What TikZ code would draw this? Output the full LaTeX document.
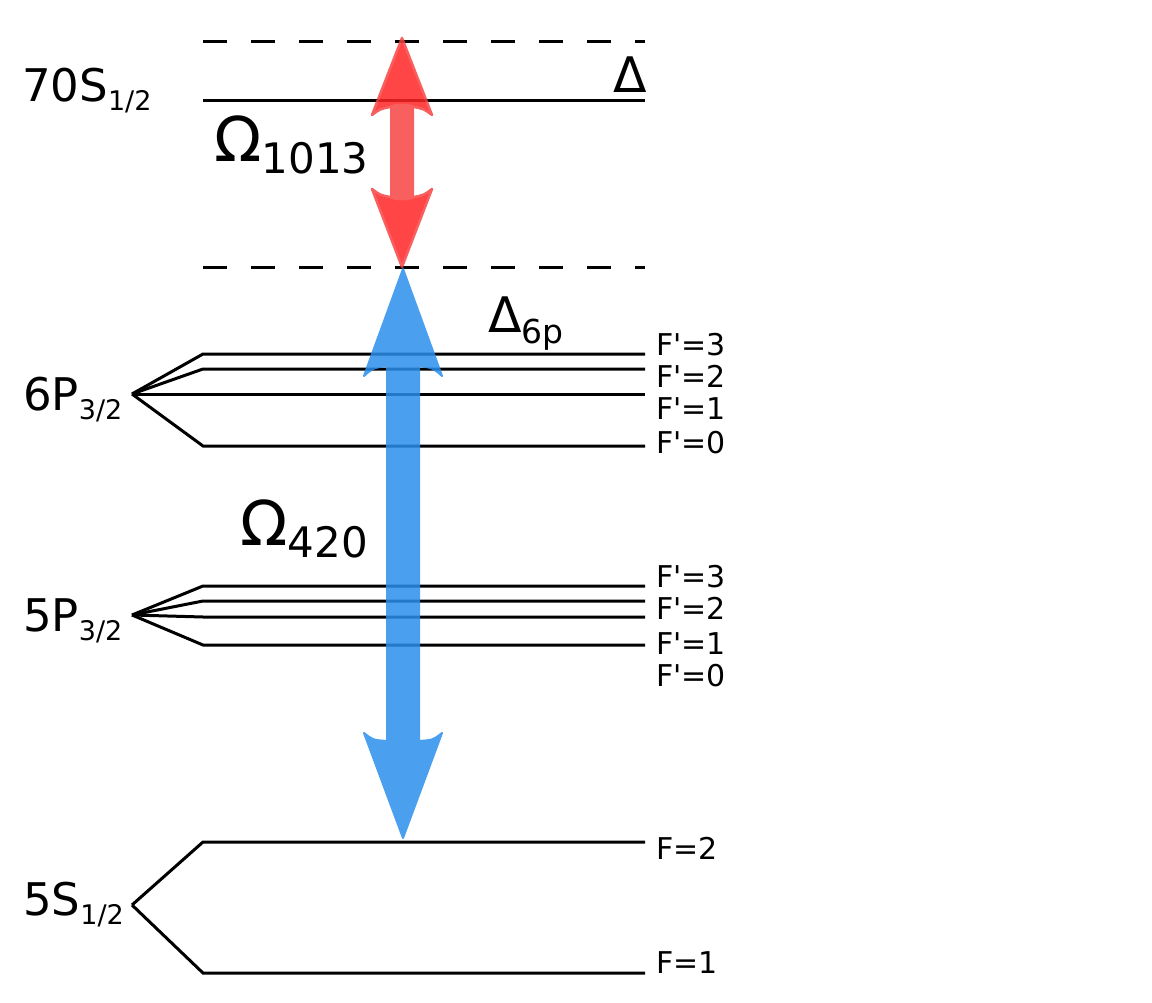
\documentclass[tikz,border=0pt]{standalone}
\usepackage{fontspec}
\setmainfont{DejaVu Sans}[Ligatures=TeXOff]
\definecolor{bluearr}{RGB}{42,142,235}
\definecolor{redhead}{RGB}{255,36,36}
\definecolor{redshaft}{RGB}{247,68,68}
\begin{document}
\begin{tikzpicture}[x=1pt,y=-1pt,
  lvl/.style={line width=3pt,line cap=butt},
  virt/.style={line width=3pt,dash pattern=on 24pt off 24pt},
  flab/.style={anchor=west,inner sep=0pt,font=\fontsize{30}{30}\selectfont},
  slab/.style={anchor=base west,inner sep=0pt},
  blueA/.style={fill=bluearr,draw=bluearr,line width=2pt,line join=round},
  redH/.style={fill=redhead,draw=redshaft,line width=2.5pt,line join=round},
  redS/.style={fill=redshaft}]
\useasboundingbox (0,0) rectangle (1152,1003);
% virtual levels
\coordinate (d1a) at (203,42);  \coordinate (d1b) at (645,42);
\coordinate (d2a) at (203,268); \coordinate (d2b) at (645,268);
\draw[virt] (d1a) -- (d1b);
\draw[virt] (d2a) -- (d2b);
% 70S
\coordinate (r1) at (203,101); \coordinate (r2) at (645,101);
\draw[lvl] (r1) -- (r2);
% 6P
\coordinate (p6) at (132,394);
\foreach \y in {354,369,394,446}{
  \draw[lvl] (p6) -- (203,\y) -- (645,\y);
}
% 5P
\coordinate (p5) at (132,615);
\foreach \y in {586,601,617,645}{
  \draw[lvl] (p5) -- (203,\y) -- (645,\y);
}
% 5S
\coordinate (s5) at (132,905);
\draw[lvl] (s5) -- (203,842) -- (645,842);
\draw[lvl] (s5) -- (203,973) -- (645,973);
% labels F
\node[flab] (f63) at (656,345) {F'=3};
\node[flab] (f62) at (656,376) {F'=2};
\node[flab] (f61) at (656,409) {F'=1};
\node[flab] (f60) at (656,443) {F'=0};
\node[flab] (f53) at (656,577) {F'=3};
\node[flab] (f52) at (656,608) {F'=2};
\node[flab] (f51) at (656,644) {F'=1};
\node[flab] (f50) at (656,676) {F'=0};
\node[flab] (f2) at (656,848) {F=2};
\node[flab] (f1) at (656,963) {F=1};
% level labels
\node[slab] (l70) at (22,102) {\fontsize{45}{45}\selectfont 70S\raisebox{-9pt}{\fontsize{27}{27}\selectfont 1/2}};
\node[slab] (l6p) at (23,410) {\fontsize{45}{45}\selectfont 6P\raisebox{-9pt}{\fontsize{27}{27}\selectfont 3/2}};
\node[slab] (l5p) at (23,631) {\fontsize{45}{45}\selectfont 5P\raisebox{-9pt}{\fontsize{27}{27}\selectfont 3/2}};
\node[slab] (l5s) at (23,915) {\fontsize{45}{45}\selectfont 5S\raisebox{-9pt}{\fontsize{27}{27}\selectfont 1/2}};
% Rabi / detuning labels
\node[slab] (om1) at (214,162) {\fontsize{62}{62}\selectfont Ω\raisebox{-12pt}{\fontsize{42}{42}\selectfont 1013}};
\node[slab] (om2) at (240,545) {\fontsize{62}{62}\selectfont Ω\raisebox{-12pt}{\fontsize{42}{42}\selectfont 420}};
\node[slab] (del) at (613,93) {\fontsize{49}{49}\selectfont Δ};
\node[slab] (d6p) at (488,333) {\fontsize{49}{49}\selectfont Δ\raisebox{-10pt}{\fontsize{33}{33}\selectfont 6p}};
% blue arrow (one shape)
\coordinate (bt) at (403,269);
\coordinate (bb) at (403,838);
\begin{scope}[transparency group,opacity=0.85]
\filldraw[blueA] (bt) -- (442,376) .. controls (433,368) .. (419,366)
  -- (419,741) .. controls (433,740) .. (442,733) -- (bb) -- (364,733)
  .. controls (373,740) .. (387,741) -- (387,366)
  .. controls (373,368) .. (364,376) -- cycle;
\end{scope}
% red arrow
\coordinate (rt) at (402,38);
\coordinate (rb) at (402,267);
\begin{scope}[transparency group,opacity=0.85]
\fill[redS] (390,90) rectangle (414,210);
\filldraw[redH] (rt) -- (432,115) .. controls (424,109) .. (414,107)
  .. controls (407,104) and (397,104) .. (390,107)
  .. controls (380,109) .. (372,115) -- cycle;
\filldraw[redH] (rb) -- (432,189) .. controls (424,195) .. (414,197)
  .. controls (407,200) and (397,200) .. (390,197)
  .. controls (380,195) .. (372,189) -- cycle;
\end{scope}
\end{tikzpicture}
\end{document}
